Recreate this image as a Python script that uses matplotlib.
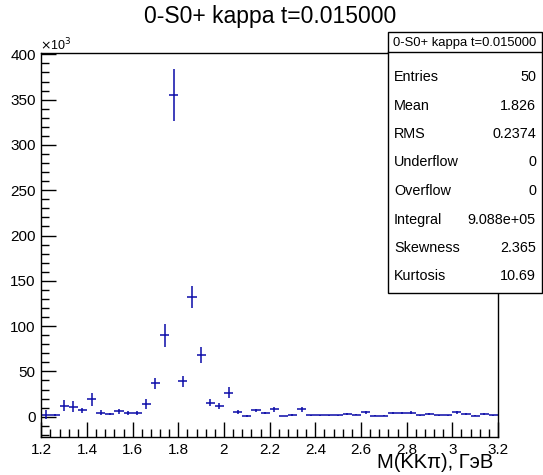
import matplotlib
matplotlib.use("Agg")
import matplotlib.pyplot as plt
import numpy as np
from matplotlib.patches import Rectangle
from matplotlib.ticker import MultipleLocator, FuncFormatter

plt.rcParams['font.family'] = ['Liberation Sans', 'DejaVu Sans']

# histogram: 50 bins, 1.2 .. 3.2
bin_lo = 1.2
bin_w = 0.04
counts = [2, 2, 12, 11, 7, 19, 4.5, 3, 6, 4,
          4, 14, 37, 90, 355, 39, 132, 68, 15.5, 12,
          26.5, 5, 1, 7, 4, 8, 0.8, 2, 8, 1.5,
          1.5, 1.5, 1.5, 3, 2, 4.8, 1, 1, 3.7, 3.7,
          4.4, 1.5, 2.6, 1.5, 1.5, 4.8, 2.6, 1, 3.3, 1.5]
errors = [5, 1, 6, 6, 3, 7, 2.5, 1.5, 2.5, 2,
          2, 5, 6, 12.5, 29, 6, 12.5, 9, 3.5, 3,
          6, 2, 1, 2, 1, 2.5, 0.5, 1, 2.5, 0.5,
          0.5, 0.5, 0.5, 1, 0.5, 1.5, 0.5, 0.5, 1, 1,
          1.5, 0.5, 1, 0.5, 0.5, 2, 1, 0.5, 1, 0.5]

title = "0-S0+ kappa t=0.015000"
stats_names = ["Entries", "Mean", "RMS", "Underflow", "Overflow",
               "Integral", "Skewness", "Kurtosis"]
stats_values = ["50", "1.826", "0.2374", "0", "0", "9.088e+05", "2.365", "10.69"]

W, H = 543, 475
fig = plt.figure(figsize=(W / 100, H / 100), dpi=100)
ax = fig.add_axes([41.3 / W, 1 - 437 / H, (498 - 41.3) / W, (437 - 53) / H])

centers = bin_lo + bin_w * (np.arange(len(counts)) + 0.5)
y = np.array(counts) * 1e3
yerr = np.array(errors) * 1e3
ax.errorbar(centers, y, yerr=yerr, xerr=bin_w / 2, fmt='none',
            ecolor='#0a0aa8', elinewidth=1.1, capsize=0)

ax.set_xlim(1.2, 3.2)
ax.set_ylim(-22.4e3, 401.5e3)

ax.xaxis.set_major_locator(MultipleLocator(0.2))
ax.xaxis.set_minor_locator(MultipleLocator(0.04))
ax.yaxis.set_major_locator(MultipleLocator(50e3))
ax.yaxis.set_minor_locator(MultipleLocator(10e3))
ax.yaxis.set_major_formatter(FuncFormatter(lambda v, p: "%d" % round(v / 1e3)))
ax.xaxis.set_major_formatter(FuncFormatter(lambda v, p: ("%.1f" % v).rstrip('0').rstrip('.')))

ax.tick_params(which='both', direction='in', top=False, right=False,
               labelsize=11, pad=4, width=1, color='black')
ax.tick_params(which='major', length=11)
ax.tick_params(which='minor', length=5.5)
for s in ax.spines.values():
    s.set_linewidth(1)

fig.text(270 / W, 1 - 17 / H, title, ha='center', va='center', fontsize=16.5)
fig.text(40 / W, 1 - 45 / H, r"$\times$10$^3$", ha='left', va='center', fontsize=9)
fig.text(493 / W, 1 - 462 / H, "M(KKπ), ГэВ", ha='right', va='center', fontsize=14.5)

# stats box
bx0, bx1, by0, by1 = 388, 542, 32, 293
fig.patches.append(Rectangle((bx0 / W, 1 - by1 / H), (bx1 - bx0) / W, (by1 - by0) / H,
                             transform=fig.transFigure, facecolor='white',
                             edgecolor='black', linewidth=1, zorder=5))
fig.lines.append(plt.Line2D([bx0 / W, bx1 / W], [1 - 52 / H, 1 - 52 / H],
                            transform=fig.transFigure, color='black', linewidth=1, zorder=6))
fig.text((bx0 + bx1) / 2 / W, 1 - 43 / H, title, ha='center', va='center',
         fontsize=9.4, zorder=7)
row_y = [77, 105.5, 134, 162.5, 191, 219.5, 248, 276.5]
for name, val, ry in zip(stats_names, stats_values, row_y):
    fig.text(394 / W, 1 - ry / H, name, ha='left', va='center', fontsize=10.4, zorder=7)
    fig.text(536 / W, 1 - ry / H, val, ha='right', va='center', fontsize=10.4, zorder=7)

fig.savefig("out.png", dpi=100)
